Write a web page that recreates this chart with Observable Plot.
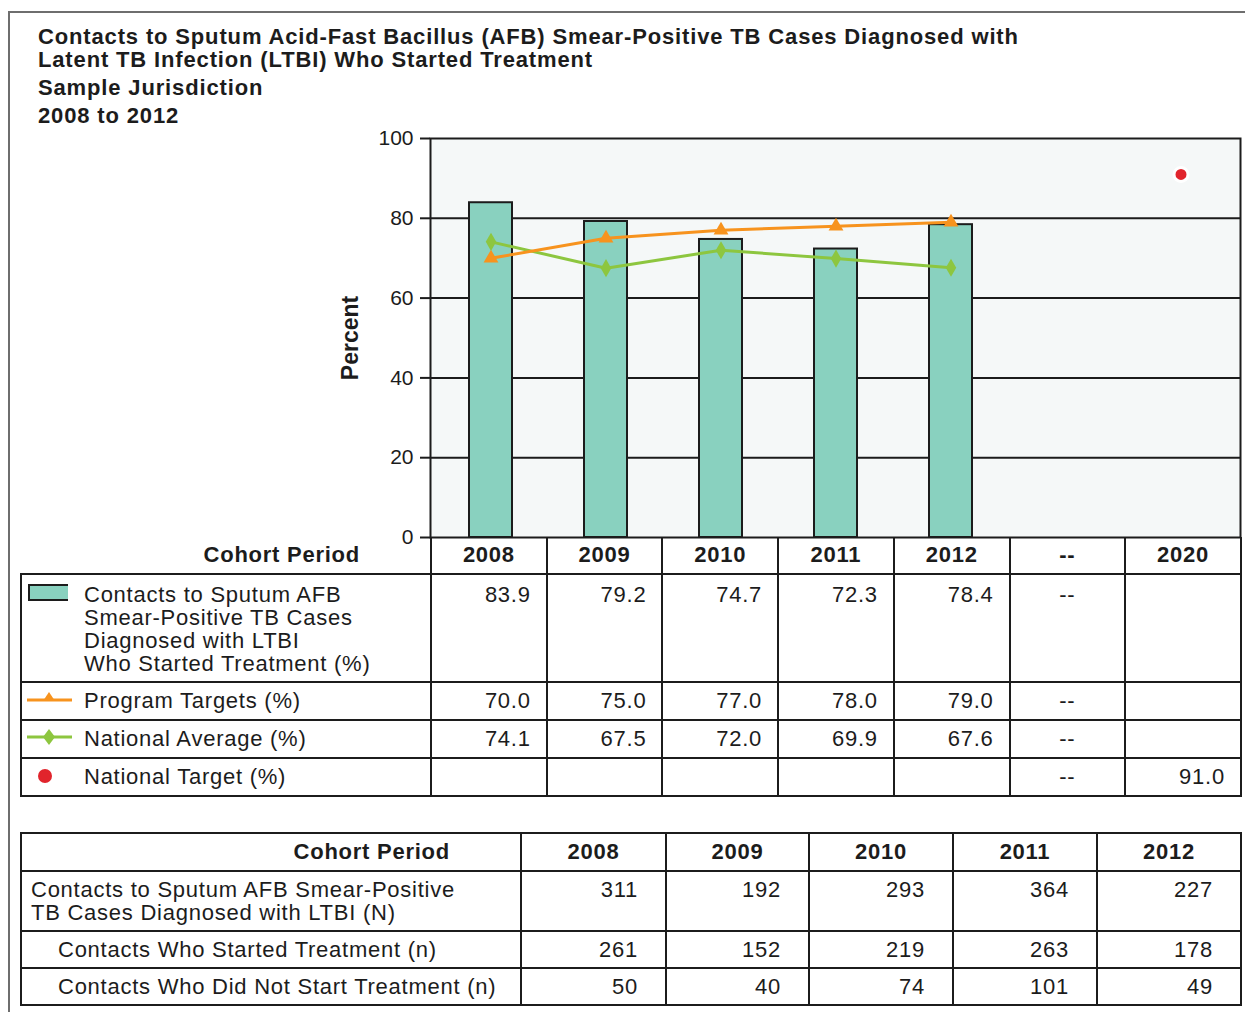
<!DOCTYPE html>
<html><head><meta charset="utf-8">
<script src="https://cdn.jsdelivr.net/npm/d3@7"></script>
<script src="https://cdn.jsdelivr.net/npm/@observablehq/plot@0.6"></script>
<style>
body{margin:0;background:#fff;font-family:"Liberation Sans",Arial,sans-serif;color:#1c1c1c;}
#page{position:relative;width:1245px;height:1012px;overflow:hidden;background:#fff;}
#frame{position:absolute;left:8px;top:11px;width:1280px;height:1040px;border:2px solid #6e6e6e;box-sizing:border-box;}
#title{position:absolute;left:38px;top:25px;font-weight:bold;font-size:22px;letter-spacing:0.85px;line-height:23px;white-space:nowrap;}
#title .sub{margin-top:3px;line-height:28px;}
#chart{position:absolute;left:0;top:128px;}
table{position:absolute;border-collapse:collapse;table-layout:fixed;font-size:22px;letter-spacing:0.75px;}
td{border:2px solid #1c1c1c;padding:0;overflow:hidden;white-space:nowrap;}
#t1{left:20px;top:537px;width:1220px;}
#t1 td.num{text-align:right;padding-right:15px;}
#t1 td.dash{text-align:center;}
#t1 tr.head td{height:36px;font-weight:bold;text-align:center;border-top:none;}
#t1 tr.head td.lab{border-left:none;text-align:right;padding-right:70px;}
#t1 tr.r1 td{vertical-align:top;padding-top:8px;height:98px;line-height:23px;}
#t1 tr.rs td{height:36px;vertical-align:middle;}
.leg{display:flex;align-items:flex-start;}
.leg .ic{width:62px;flex:none;}
#t2{left:20px;top:832px;width:1220px;}
#t2 td.num{text-align:right;padding-right:27px;}
#t2 tr.head td{height:36px;font-weight:bold;text-align:center;}
#t2 tr.head td.lab{text-align:right;padding-right:70px;}
#t2 tr.r1 td{vertical-align:top;padding-top:6px;height:52px;line-height:23px;}
#t2 tr.r1 td.lab{padding-left:9px;}
#t2 tr.rs td{height:35px;}
#t2 tr.rs td.lab{padding-left:36px;}
</style>
</head><body>
<div id="page">
  <div id="frame"></div>
  <div id="title">
    <div>Contacts to Sputum Acid-Fast Bacillus (AFB) Smear-Positive TB Cases Diagnosed with</div>
    <div>Latent TB Infection (LTBI) Who Started Treatment</div>
    <div class="sub">Sample Jurisdiction</div>
    <div style="line-height:28px">2008 to 2012</div>
  </div>
  <div id="chart"></div>
  <table id="t1"></table>
  <table id="t2"></table>
</div>
<script>
// ---- data ----
const years = ["2008", "2009", "2010", "2011", "2012"];
const columns = ["2008", "2009", "2010", "2011", "2012", "--", "2020"];
const pctStarted = [83.9, 79.2, 74.7, 72.3, 78.4];
const programTargets = [70.0, 75.0, 77.0, 78.0, 79.0];
const nationalAverage = [74.1, 67.5, 72.0, 69.9, 67.6];
const nationalTargetYear = "2020";
const nationalTarget = 91.0;
const yTicks = [0, 20, 40, 60, 80, 100];
const contactsN = [311, 192, 293, 364, 227];
const startedN = [261, 152, 219, 263, 178];
const notStartedN = [50, 40, 74, 101, 49];

const labels = {
  bar: ["Contacts to Sputum AFB", "Smear-Positive TB Cases", "Diagnosed with LTBI", "Who Started Treatment (%)"],
  prog: "Program Targets (%)",
  avg: "National Average (%)",
  tgt: "National Target (%)",
  n: ["Contacts to Sputum AFB Smear-Positive", "TB Cases Diagnosed with LTBI (N)"],
  started: "Contacts Who Started Treatment (n)",
  notStarted: "Contacts Who Did Not Start Treatment (n)"
};

const colors = {bar: "#89d1bf", prog: "#f7931e", avg: "#8dc63f", tgt: "#e1242c", ink: "#1c1c1c"};

// ---- tables for plot ----
const barData = years.map((y, i) => ({year: y, value: pctStarted[i]}));
const progData = years.map((y, i) => ({year: y, value: programTargets[i]}));
const avgData = years.map((y, i) => ({year: y, value: nationalAverage[i]}));
const tgtData = [{year: nationalTargetYear, value: nationalTarget}];

const chart = Plot.plot({
  width: 1245,
  height: 411,
  marginTop: 10,
  marginBottom: 2,
  marginLeft: 430,
  marginRight: 5,
  style: {fontFamily: "Liberation Sans, Arial, sans-serif", color: colors.ink, background: "transparent", overflow: "visible"},
  x: {type: "band", domain: columns, padding: 0, axis: null},
  y: {domain: [0, 100]},
  marks: [
    Plot.frame({fill: "#f5f8f8", stroke: colors.ink, strokeWidth: 2}),
    Plot.ruleY(yTicks.filter(d => d > 0 && d < 100), {stroke: colors.ink, strokeWidth: 2}),
    Plot.barY(barData, {x: "year", y: "value", fill: colors.bar, stroke: colors.ink, strokeWidth: 2, insetLeft: 36, insetRight: 36}),
    Plot.line(avgData, {x: "year", y: "value", stroke: colors.avg, strokeWidth: 3}),
    Plot.dot(avgData, {x: "year", y: "value", symbol: "diamond", r: 5.5, fill: colors.avg}),
    Plot.line(progData, {x: "year", y: "value", stroke: colors.prog, strokeWidth: 3}),
    Plot.dot(progData, {x: "year", y: "value", symbol: "triangle", r: 5.5, fill: colors.prog}),
    Plot.dot(tgtData, {x: "year", y: "value", r: 7, fill: colors.tgt, stroke: "white", strokeWidth: 3}),
    Plot.axisY({ticks: yTicks, tickSize: 10, tickPadding: 7, fontSize: 21, label: null, strokeWidth: 2}),
    Plot.text(["Percent"], {frameAnchor: "left", dx: -80, rotate: -90, textAnchor: "middle", fontWeight: "bold", fontSize: 23})
  ]
});
document.getElementById("chart").appendChild(chart);

// ---- legend icons ----
const icons = {
  bar: `<svg width="46" height="20"><rect x="7" y="2" width="42" height="15" fill="${colors.bar}" stroke="${colors.ink}" stroke-width="2"/></svg>`,
  prog: `<svg width="56" height="20"><line x1="5" y1="12" x2="50" y2="12" stroke="${colors.prog}" stroke-width="3"/><path d="M27,4 L33,13 L21,13 Z" fill="${colors.prog}"/></svg>`,
  avg: `<svg width="56" height="20"><line x1="5" y1="11" x2="50" y2="11" stroke="${colors.avg}" stroke-width="3"/><path d="M27,3 L33,11 L27,19 L21,11 Z" fill="${colors.avg}"/></svg>`,
  tgt: `<svg width="56" height="20"><circle cx="23" cy="12" r="7" fill="${colors.tgt}"/></svg>`
};
const fmt1 = v => v.toFixed(1);
const leg = (ic, text) => `<div class="leg"><div class="ic">${ic}</div><div>${text}</div></div>`;

const w1 = [410].concat(columns.map(() => 810 / 7));
let h1 = `<colgroup>${w1.map(w => `<col style="width:${w}px">`).join("")}</colgroup>`;
h1 += `<tr class="head"><td class="lab">Cohort Period</td>${columns.map(c => `<td>${c}</td>`).join("")}</tr>`;
const rowCells = (vals, extraDash, extraLast) =>
  vals.map(v => `<td class="num">${v}</td>`).join("") + `<td class="dash">${extraDash}</td><td class="num">${extraLast}</td>`;
h1 += `<tr class="r1"><td>${leg(icons.bar, labels.bar.join("<br>"))}</td>${rowCells(pctStarted.map(fmt1), "--", "")}</tr>`;
h1 += `<tr class="rs"><td>${leg(icons.prog, labels.prog)}</td>${rowCells(programTargets.map(fmt1), "--", "")}</tr>`;
h1 += `<tr class="rs"><td>${leg(icons.avg, labels.avg)}</td>${rowCells(nationalAverage.map(fmt1), "--", "")}</tr>`;
h1 += `<tr class="rs"><td>${leg(icons.tgt, labels.tgt)}</td>${rowCells(years.map(() => ""), "--", fmt1(nationalTarget))}</tr>`;
document.getElementById("t1").innerHTML = h1;

const w2 = [500, 145, 143, 144, 144, 144];
let h2 = `<colgroup>${w2.map(w => `<col style="width:${w}px">`).join("")}</colgroup>`;
h2 += `<tr class="head"><td class="lab">Cohort Period</td>${years.map(y => `<td>${y}</td>`).join("")}</tr>`;
h2 += `<tr class="r1"><td class="lab">${labels.n.join("<br>")}</td>${contactsN.map(v => `<td class="num">${v}</td>`).join("")}</tr>`;
h2 += `<tr class="rs"><td class="lab">${labels.started}</td>${startedN.map(v => `<td class="num">${v}</td>`).join("")}</tr>`;
h2 += `<tr class="rs"><td class="lab">${labels.notStarted}</td>${notStartedN.map(v => `<td class="num">${v}</td>`).join("")}</tr>`;
document.getElementById("t2").innerHTML = h2;
</script>
</body></html>
